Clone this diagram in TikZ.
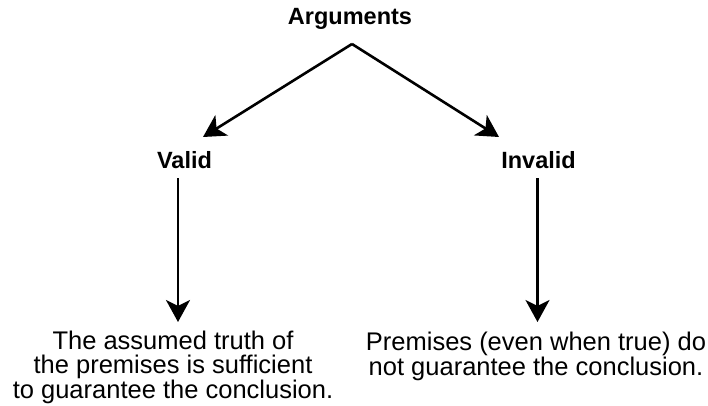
\documentclass[tikz,border=0pt]{standalone}
\usepackage{fontspec}
\setmainfont{Liberation Sans}
\usetikzlibrary{arrows.meta}
\begin{document}
\begin{tikzpicture}[x=1pt,y=-1pt,
  heading/.style={font=\bfseries\fontsize{23.5}{26}\selectfont, inner sep=0pt, anchor=base},
  note/.style={font=\fontsize{25.5}{23.3}\selectfont, inner sep=0pt, align=center, anchor=base},
  arr/.style={line width=2.6pt, -{Stealth[length=22pt,width=24pt,inset=6pt]}}]
\useasboundingbox (0,0) rectangle (708,406);

% category labels
\node[heading] (args) at (350,25) {Arguments};
\node[heading] (valid) at (184.5,168) {Valid};
\node[heading] (invalid) at (538.5,168) {Invalid};

% explanations (base anchor sits on the last line)
\node[note] (validtxt) at (173,398) {The assumed truth of\\the premises is sufficient\\to guarantee the conclusion.};
\node[note] (invalidtxt) at (536,375) {Premises (even when true) do\\not guarantee the conclusion.};

% connector end points
\coordinate (apex) at (352,44);
\coordinate (vtip) at (203,137);
\coordinate (itip) at (499,137);
\coordinate (vtop) at (178,178);
\coordinate (vend) at (178,322);
\coordinate (itop) at (537.5,178);
\coordinate (iend) at (537.5,322);

\draw[arr] (apex) -- (vtip);
\draw[arr] (apex) -- (itip);
\draw[arr] (vtop) -- (vend);
\draw[arr] (itop) -- (iend);
\end{tikzpicture}
\end{document}
